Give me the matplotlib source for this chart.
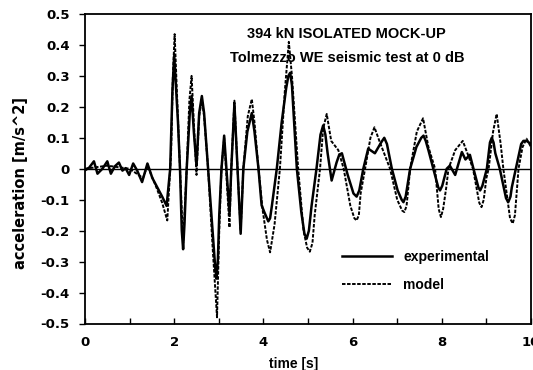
import matplotlib
matplotlib.use("Agg")
import matplotlib.pyplot as plt
from matplotlib.lines import Line2D

# ---- data ----
t_exp = [0.00, 0.09, 0.20, 0.28, 0.39, 0.50, 0.58, 0.67, 0.76, 0.84, 0.91, 0.99,
         1.08, 1.17, 1.28, 1.40, 1.51, 1.62, 1.73, 1.83, 1.91, 1.96, 2.00, 2.085,
         2.13, 2.17, 2.20, 2.23, 2.28, 2.35, 2.39, 2.44, 2.50, 2.56, 2.62, 2.67, 2.76, 2.86,
         2.92, 2.95, 2.98, 3.01, 3.06, 3.12, 3.17, 3.24, 3.28, 3.35, 3.42, 3.49, 3.55, 3.64,
         3.74, 3.80, 3.89, 3.96, 4.02, 4.08, 4.11, 4.15, 4.19, 4.30, 4.41, 4.51, 4.56, 4.60, 4.64,
         4.70, 4.75, 4.85, 4.92, 4.97, 5.02, 5.08, 5.19, 5.28, 5.34, 5.39, 5.44, 5.53, 5.64, 5.70,
         5.76, 5.89, 6.02, 6.09, 6.15, 6.24, 6.35, 6.50, 6.64, 6.71, 6.77, 6.88, 7.01, 7.10,
         7.14, 7.19, 7.29, 7.43, 7.54, 7.59, 7.64, 7.70, 7.81, 7.92, 7.96, 8.01, 8.11, 8.18,
         8.30, 8.45, 8.53, 8.63, 8.71, 8.82, 8.86, 8.91, 9.01, 9.08, 9.12, 9.16, 9.20, 9.30,
         9.44, 9.49, 9.54, 9.57, 9.66, 9.78, 9.83, 9.90, 10.0]
a_exp = [-0.005, 0.003, 0.024, -0.016, 0.000, 0.024, -0.016, 0.008, 0.020, -0.006,
         0.002, -0.020, 0.017, -0.006, -0.043, 0.017, -0.030, -0.060, -0.090, -0.120,
         0.000, 0.250, 0.365, 0.150, 0.000, -0.200, -0.260, -0.180, 0.000, 0.180,
         0.235, 0.120, 0.010, 0.180, 0.235, 0.180, 0.000, -0.200, -0.320, -0.355,
         -0.290, -0.150, 0.000, 0.107, 0.000, -0.145, 0.000, 0.210, 0.000, -0.210,
         0.000, 0.120, 0.180, 0.120, 0.000, -0.118, -0.140, -0.160, -0.170, -0.160,
         -0.120, 0.000, 0.150, 0.260, 0.300, 0.310, 0.270, 0.120, 0.000, -0.140,
         -0.210, -0.226, -0.200, -0.120, 0.000, 0.110, 0.140, 0.110, 0.050, -0.038,
         0.020, 0.045, 0.050, -0.020, -0.080, -0.090, -0.070, 0.000, 0.065, 0.050,
         0.085, 0.100, 0.080, 0.000, -0.070, -0.100, -0.108, -0.090, 0.000, 0.070,
         0.100, 0.107, 0.090, 0.060, 0.000, -0.060, -0.070, -0.055, 0.000, 0.010,
         -0.020, 0.054, 0.030, 0.045, 0.000, -0.060, -0.070, -0.055, 0.000, 0.085,
         0.100, 0.085, 0.050, 0.000, -0.095, -0.108, -0.090, -0.060, 0.000, 0.080,
         0.090, 0.090, 0.080]

t_mod = [0.00, 0.50, 1.00, 1.30, 1.40, 1.60, 1.73, 1.845, 1.93, 1.97, 2.01, 2.06,
         2.13, 2.20, 2.28, 2.34, 2.39, 2.44, 2.50, 2.56, 2.62, 2.67, 2.76, 2.86,
         2.96, 3.01, 3.06, 3.12, 3.17, 3.24, 3.28, 3.35, 3.42, 3.49, 3.55, 3.65,
         3.74, 3.80, 3.89, 3.98, 4.08, 4.15, 4.25, 4.37, 4.48, 4.57, 4.64, 4.78,
         4.90, 4.98, 5.04, 5.10, 5.15, 5.27, 5.34, 5.42, 5.52, 5.60, 5.68, 5.80, 5.95,
         6.04, 6.09, 6.14, 6.18, 6.28, 6.40, 6.49, 6.60, 6.84, 7.00, 7.11, 7.16, 7.21,
         7.29, 7.44, 7.58, 7.70, 7.85, 7.93, 7.98, 8.03, 8.10, 8.15, 8.30, 8.47, 8.60,
         8.70, 8.84, 8.89, 8.94, 9.00, 9.05, 9.15, 9.23, 9.32, 9.38, 9.53, 9.59, 9.64,
         9.72, 9.81, 9.90, 10.0]
a_mod = [0.000, 0.010, 0.000, -0.030, 0.010, -0.060, -0.110, -0.167, 0.050, 0.300,
         0.435, 0.250, 0.000, -0.240, 0.000, 0.220, 0.300, 0.150, -0.020, 0.170,
         0.225, 0.170, 0.000, -0.250, -0.480, -0.200, 0.000, 0.100, -0.020, -0.190,
         0.000, 0.220, 0.000, -0.200, 0.000, 0.170, 0.225, 0.150, 0.000, -0.130,
         -0.230, -0.270, -0.180, 0.000, 0.250, 0.410, 0.300, 0.000, -0.200, -0.255,
         -0.268, -0.240, -0.150, 0.000, 0.130, 0.177, 0.090, 0.075, 0.060, 0.000,
         -0.120, -0.160, -0.167, -0.150, -0.080, 0.000, 0.100, 0.134, 0.090, 0.000,
         -0.100, -0.135, -0.140, -0.120, 0.000, 0.120, 0.163, 0.070, 0.000, -0.130,
         -0.156, -0.130, -0.060, 0.000, 0.060, 0.090, 0.040, 0.000, -0.110, -0.124,
         -0.100, -0.030, 0.000, 0.120, 0.177, 0.080, 0.000, -0.160, -0.177, -0.150,
         0.000, 0.070, 0.097, 0.070]

x_ticks = [0, 2, 4, 6, 8, 10]
y_ticks = [-0.5, -0.4, -0.3, -0.2, -0.1, 0, 0.1, 0.2, 0.3, 0.4, 0.5]
y_ticklabels = ["-0.5", "-0.4", "-0.3", "-0.2", "-0.1", "0", "0.1", "0.2", "0.3", "0.4", "0.5"]
title_lines = ["394 kN ISOLATED MOCK-UP", "Tolmezzo WE seismic test at 0 dB"]
series_labels = ["experimental", "model"]

# ---- figure ----
fig = plt.figure(figsize=(5.33, 3.70), dpi=100)
ax = fig.add_axes([85 / 533, 1 - 323.5 / 370, 446 / 533, 309.5 / 370])

ax.axhline(0, color="black", lw=1.0, zorder=1)
ax.plot(t_mod, a_mod, color="black", lw=1.4, dashes=(1.8, 0.8), zorder=2)
ax.plot(t_exp, a_exp, color="black", lw=1.8, solid_joinstyle="round", zorder=3)

ax.set_xlim(0, 10)
ax.set_ylim(-0.5, 0.5)
ax.set_xticks(x_ticks)
ax.set_xticks(range(0, 11), minor=True)
ax.set_yticks(y_ticks)
ax.set_yticklabels(y_ticklabels)

for lab in ax.get_xticklabels() + ax.get_yticklabels():
    lab.set_fontfamily("DejaVu Sans")
    lab.set_fontweight("bold")
    lab.set_fontsize(9.5)

ax.tick_params(axis="x", which="both", direction="in", length=4, width=1.0, pad=9)
ax.tick_params(axis="y", which="both", direction="out", length=4, width=1.0, pad=7)
for s in ax.spines.values():
    s.set_linewidth(1.3)

ax.set_xlabel("time [s]", fontfamily="Liberation Sans", fontweight="bold", fontsize=10)
ax.xaxis.set_label_coords((294 - 85) / 446, -0.107)
ax.xaxis.label.set_va("top")
ax.set_ylabel("acceleration [m/s^2]", fontfamily="DejaVu Sans", fontweight="bold", fontsize=10.5)
ax.yaxis.set_label_coords(-0.127, (323.5 - 183) / 309.5)

ax.text(0.587, 0.9215, title_lines[0], transform=ax.transAxes, ha="center", va="baseline",
        fontfamily="Liberation Sans", fontweight="bold", fontsize=10.5)
ax.text(0.587, 0.846, title_lines[1], transform=ax.transAxes, ha="center", va="baseline",
        fontfamily="Liberation Sans", fontweight="bold", fontsize=10.5)

handles = [Line2D([], [], color="black", lw=1.8),
           Line2D([], [], color="black", lw=1.4, dashes=(1.8, 0.8))]
leg = ax.legend(handles, series_labels, loc="upper left",
                bbox_to_anchor=((342 - 85) / 446, (323.5 - 250) / 309.5),
                frameon=False, borderpad=0, borderaxespad=0, handlelength=3.6,
                handletextpad=0.8, labelspacing=1.0,
                prop=dict(family="Liberation Sans", weight="bold", size=10))

fig.savefig("out.png", dpi=100)
